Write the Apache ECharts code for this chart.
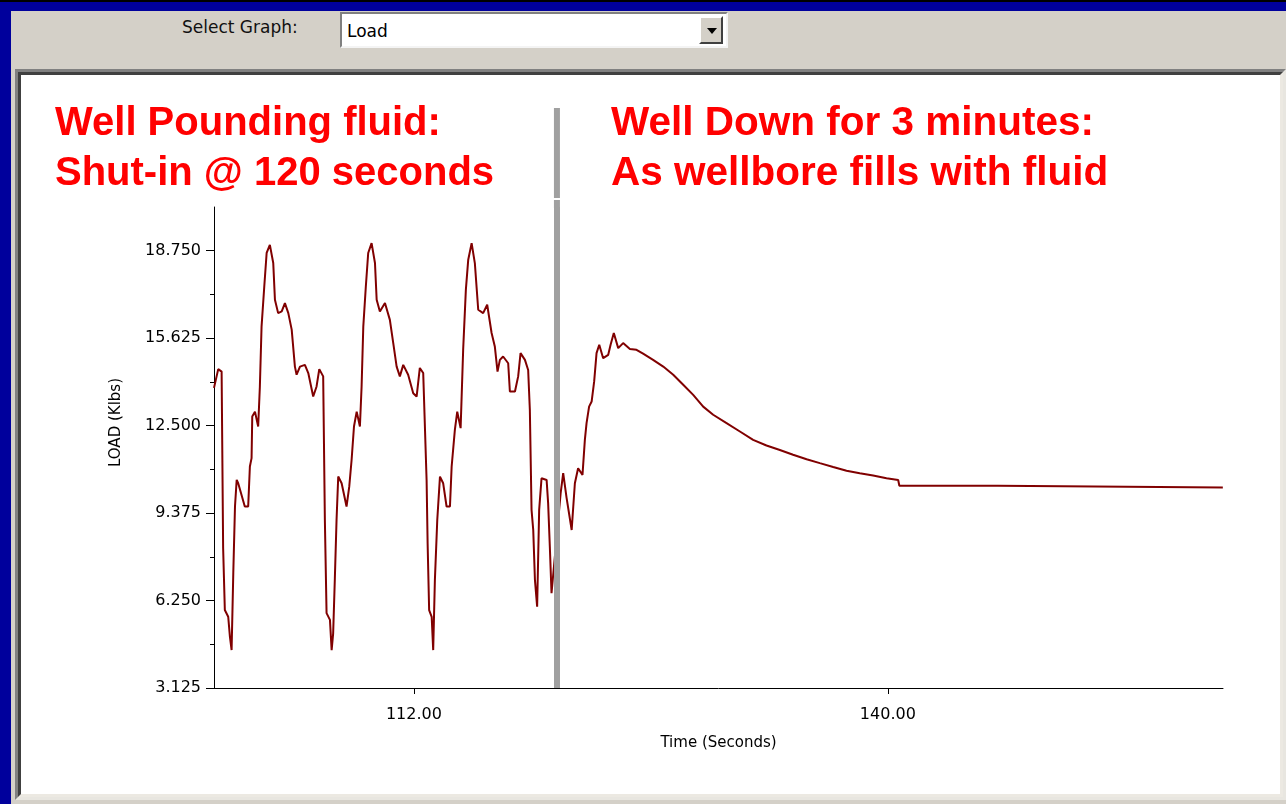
<!DOCTYPE html>
<html>
<head>
<meta charset="utf-8">
<title>Load</title>
<script src="https://cdn.jsdelivr.net/npm/echarts@6/dist/echarts.min.js"></script>
<style>
  html, body { margin: 0; padding: 0; }
  body { width: 1286px; height: 804px; overflow: hidden; position: relative; background: #00009c; }
  .topline { position: absolute; left: 0; top: 0; width: 1286px; height: 2px; background: #000; }
  .toolbar { position: absolute; left: 11px; top: 11px; right: 0; bottom: 0; background: #d4d0c8; }
  .sel-label { position: absolute; left: 182px; top: 17px; font: 17px "DejaVu Sans", sans-serif; color: #111; }
  .dropdown { position: absolute; left: 340px; top: 12px; width: 388px; height: 36px; box-sizing: border-box;
    background: #fff; border: 2px solid; border-color: #808080 #f4f4f4 #f4f4f4 #808080; }
  .dropdown span { position: absolute; left: 5px; top: 7px; font: 17px "DejaVu Sans", sans-serif; color: #000; }
  .arrow { position: absolute; right: 3px; top: 2px; width: 24px; height: 28px; box-sizing: border-box;
    background: #d4d0c8; border: 2px solid; border-color: #fff #404040 #404040 #fff; }
  .arrow:after { content: ""; position: absolute; left: 6px; top: 10px; border-left: 5px solid transparent;
    border-right: 5px solid transparent; border-top: 6px solid #000; }
  .panel { position: absolute; left: 15px; top: 69px; width: 1271px; height: 731px; box-sizing: border-box;
    border: 3px solid; border-color: #808080 #e8e6e0 #e8e6e0 #808080; }
  .panel-in { position: absolute; left: 0; top: 0; right: 0; bottom: 0; background: #fff;
    border: 3px solid; border-color: #404040 #ece9e2 #ece9e2 #404040; }
  #chart { position: absolute; left: 0; top: 0; width: 1286px; height: 804px; }
</style>
</head>
<body>
<div class="topline"></div>
<div class="toolbar"></div>
<div class="sel-label">Select Graph:</div>
<div class="dropdown"><span>Load</span><div class="arrow"></div></div>
<div class="panel"><div class="panel-in"></div></div>
<div id="chart"></div>
<script>
// time axis (seconds) and load (Klbs)
const timeSec = [
  100.19, 100.44, 100.64, 100.73, 100.83, 101.03, 101.13, 101.23, 101.33, 101.43,
  101.53, 101.62, 102.01, 102.21, 102.31, 102.41, 102.45, 102.61, 102.80, 102.90,
  103.00, 103.16, 103.30, 103.49, 103.69, 103.79, 103.98, 104.19, 104.38, 104.58,
  104.78, 104.97, 105.07, 105.27, 105.56, 105.76, 106.05, 106.25, 106.41, 106.64,
  106.74, 106.84, 107.04, 107.14, 107.23, 107.33, 107.43, 107.53, 107.73, 108.02,
  108.18, 108.32, 108.46, 108.62, 108.81, 108.91, 109.01, 109.16, 109.30, 109.50,
  109.70, 109.80, 109.99, 110.29, 110.58, 110.78, 110.98, 111.17, 111.37, 111.66,
  111.96, 112.16, 112.35, 112.55, 112.75, 112.81, 112.90, 113.05, 113.14, 113.24,
  113.38, 113.54, 113.73, 113.93, 114.13, 114.23, 114.42, 114.56, 114.76, 114.91,
  115.07, 115.21, 115.41, 115.60, 115.80, 116.09, 116.33, 116.59, 116.78, 116.94,
  117.08, 117.27, 117.57, 117.67, 117.97, 118.16, 118.30, 118.56, 118.75, 118.85,
  118.95, 119.05, 119.15, 119.28, 119.40, 119.54, 119.84, 119.93, 120.03, 120.13, 120.23,
  120.67, 120.82, 121.02, 121.32, 121.51, 121.70, 121.96, 122.10, 122.20, 122.35,
  122.50, 122.65, 122.79, 122.95, 123.18, 123.48, 123.62, 123.81, 124.07, 124.36,
  124.76, 125.15, 125.54, 126.13, 126.73, 127.32, 127.91, 128.50, 129.09, 129.68,
  130.47, 131.26, 132.04, 132.83, 133.62, 134.40, 135.20, 135.98, 136.77, 137.56,
  138.34, 139.13, 139.92, 140.61, 140.68, 146.50, 146.61, 159.79
]
const loadKlbs = [
  13.85, 14.52, 14.43, 8.12, 5.91, 5.67, 4.96, 4.48, 7.24, 9.61,
  10.56, 10.44, 9.61, 9.61, 11.04, 11.34, 12.83, 13.00, 12.47, 13.90,
  16.04, 17.47, 18.67, 18.96, 18.31, 17.00, 16.52, 16.58, 16.88, 16.52,
  15.93, 14.61, 14.32, 14.61, 14.67, 14.38, 13.54, 13.90, 14.52, 14.26,
  9.13, 5.80, 5.56, 4.48, 5.08, 7.05, 9.13, 10.68, 10.44, 9.61,
  10.32, 11.28, 12.47, 13.00, 12.47, 13.90, 16.04, 17.47, 18.67, 19.02,
  18.31, 17.00, 16.58, 16.88, 16.28, 15.45, 14.61, 14.26, 14.67, 14.32,
  13.66, 13.54, 14.56, 14.38, 10.56, 8.30, 5.91, 5.67, 4.48, 6.99,
  9.13, 10.68, 10.44, 9.61, 9.61, 11.04, 12.35, 13.00, 12.41, 15.21,
  17.36, 18.43, 19.02, 18.31, 16.64, 16.52, 16.82, 15.81, 15.33, 14.43,
  14.85, 14.97, 14.73, 13.72, 13.72, 14.26, 15.09, 14.85, 14.49, 13.06,
  9.49, 8.77, 6.99, 6.03, 9.49, 10.62, 10.56, 9.73, 8.18, 6.51, 6.51,
  10.09, 10.80, 9.92, 8.77, 10.44, 10.98, 10.74, 11.99, 12.59, 13.18,
  13.36, 14.08, 15.09, 15.39, 14.91, 15.03, 15.39, 15.81, 15.27, 15.45,
  15.24, 15.21, 15.07, 14.85, 14.61, 14.32, 13.96, 13.60, 13.18, 12.89,
  12.59, 12.29, 11.99, 11.79, 11.63, 11.46, 11.30, 11.16, 11.02, 10.89,
  10.80, 10.72, 10.62, 10.56, 10.35, 10.35, 10.29, 10.29
]
const xTickValues = [112, 140]
const yTickValues = [3.125, 6.25, 9.375, 12.5, 15.625, 18.75]
const yMinorValues = [4.6875, 7.8125, 10.9375, 14.0625, 17.1875]
const shutInTime = 120.45
const noteLeft = 'Well Pounding fluid:\nShut-in @ 120 seconds'
const noteRight = 'Well Down for 3 minutes:\nAs wellbore fills with fluid'

const chart = echarts.init(document.getElementById('chart'))
const axisFont = { fontFamily: 'DejaVu Sans', fontSize: 16, color: '#000' }
const noteStyle = { fontFamily: 'Liberation Sans', fontWeight: 'bold', fontSize: 40, lineHeight: 50, color: '#ff0000' }

const option = {
  animation: false,
  backgroundColor: 'transparent',
  title: [
    { text: noteLeft, left: 55, top: 99, padding: 0, textStyle: noteStyle },
    { text: noteRight, left: 611, top: 99, padding: 0, textStyle: { ...noteStyle, fontSize: 40.5 } }
  ],
  grid: { left: 214, right: 63, top: 207, bottom: 116, containLabel: false },
  xAxis: {
    type: 'value',
    min: 100.19,
    max: 159.8,
    name: 'Time (Seconds)',
    nameLocation: 'middle',
    nameGap: 48,
    nameTextStyle: { ...axisFont, fontSize: 15 },
    axisLine: { lineStyle: { color: '#000', width: 1 } },
    axisTick: { customValues: xTickValues, length: 6, lineStyle: { color: '#000' } },
    axisLabel: { customValues: xTickValues, margin: 19, ...axisFont, formatter: v => v.toFixed(2) },
    splitLine: { show: false }
  },
  yAxis: [
    {
      type: 'value',
      min: 3.125,
      max: 20.3125,
      interval: 3.125,
      name: 'LOAD (Klbs)',
      nameLocation: 'middle',
      nameGap: 90,
      nameRotate: 90,
      nameTextStyle: { ...axisFont, fontSize: 15, padding: [0, 0, 0, 50] },
      axisLine: { lineStyle: { color: '#000', width: 1 } },
      axisTick: { customValues: yTickValues, length: 8, lineStyle: { color: '#000' } },
      axisLabel: { customValues: yTickValues, margin: 13, ...axisFont, formatter: v => v.toFixed(3) },
      splitLine: { show: false }
    },
    {
      type: 'value',
      min: 3.125,
      max: 20.3125,
      position: 'left',
      axisLine: { show: false },
      axisTick: { show: true, customValues: yMinorValues, length: 4, lineStyle: { color: '#000' } },
      axisLabel: { show: false },
      splitLine: { show: false }
    }
  ],
  series: [
    {
      type: 'line',
      showSymbol: false,
      data: timeSec.map((t, i) => [t, loadKlbs[i]]),
      lineStyle: { color: '#800000', width: 2 },
      markLine: {
        silent: true,
        symbol: 'none',
        label: { show: false },
        lineStyle: { color: '#a0a0a0', width: 6, type: 'solid' },
        data: [{ xAxis: shutInTime }]
      }
    }
  ]
}
chart.setOption(option)

// the shut-in bar carries on up through the notes
const barX = chart.convertToPixel({ xAxisIndex: 0 }, shutInTime)
chart.setOption({
  graphic: [
    { type: 'rect', shape: { x: barX - 3, y: 108, width: 6, height: 90 }, style: { fill: '#a0a0a0' }, silent: true },
    { type: 'rect', shape: { x: barX - 3, y: 200, width: 6, height: 8 }, style: { fill: '#a0a0a0' }, silent: true }
  ]
})
</script>
</body>
</html>
